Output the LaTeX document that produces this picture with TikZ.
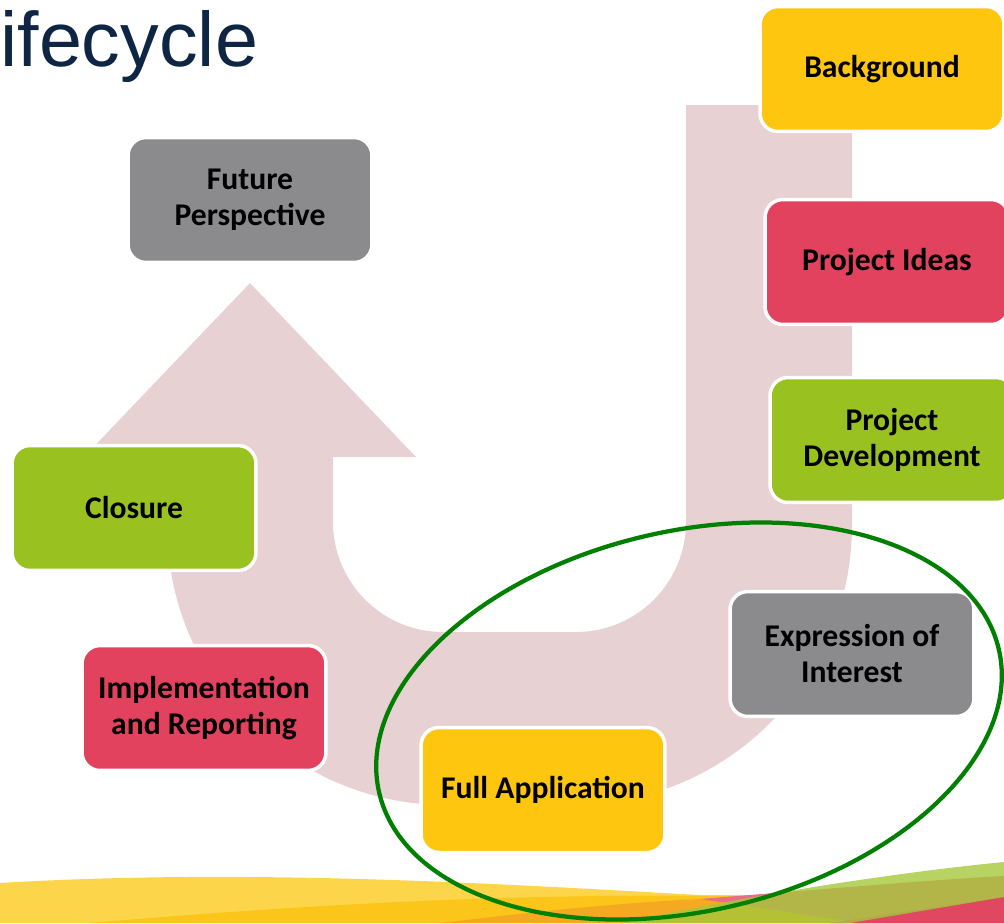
\documentclass[tikz,border=0pt]{standalone}
\usepackage{fontspec}
\setmainfont{Carlito}
\newfontfamily\titlefont{Liberation Sans}
\definecolor{boxyellow}{HTML}{FEC60E}
\definecolor{boxred}{HTML}{E3425F}
\definecolor{boxgreen}{HTML}{99C221}
\definecolor{boxgray}{HTML}{8B8B8D}
\definecolor{upink}{HTML}{E7D1D2}
\definecolor{titleblue}{HTML}{0E2643}
\definecolor{ringgreen}{HTML}{007F00}
\definecolor{wlightyellow}{HTML}{FCD54B}
\definecolor{wyellow}{HTML}{FBC51A}
\definecolor{worange}{HTML}{F5A923}
\definecolor{wpink}{HTML}{E86E87}
\definecolor{wred}{HTML}{E04862}
\definecolor{wgreen}{HTML}{A5C83A}
\begin{document}
\begin{tikzpicture}[x=0.02cm,y=-0.02cm,
  box/.style={rounded corners=0.36cm, draw=white, line width=0.07cm, text=black,
    font=\bfseries\fontsize{18}{20.5}\selectfont, align=center,
    minimum width=4.88cm, minimum height=2.5cm, inner sep=0pt},
  ubody/.style={fill=upink, draw=none},
  ring/.style={draw=ringgreen, line width=0.085cm}]
\useasboundingbox (0,0) rectangle (1004,923);
% bottom waves
\fill[wlightyellow] (0,883) .. controls (250,868) and (500,884) .. (700,895) -- (1004,895) -- (1004,923) -- (0,923) -- cycle;
\fill[wyellow] (90,923) .. controls (300,905) and (500,894) .. (700,896) -- (1004,896) -- (1004,923) -- cycle;
\fill[worange] (440,923) .. controls (550,910) and (620,903) .. (700,899) -- (860,923) -- cycle;
\fill[wpink] (700,899) .. controls (850,887) and (930,880) .. (1004,876) -- (1004,923) -- (860,923) -- cycle;
\fill[wred] (830,923) -- (1004,897) -- (1004,923) -- cycle;
\fill[wgreen, opacity=0.8] (620,923) .. controls (750,895) and (900,872) .. (1004,862) -- (1004,897) -- (850,923) -- cycle;
% U-turn arrow
\path[ubody] (852,105) -- (852,525) arc[start angle=0, end angle=90, radius=280]
  -- (447,805) arc[start angle=90, end angle=180, radius=280]
  -- (167,457) -- (84,457) -- (250,283) -- (416,457) -- (333,457) -- (333,522)
  arc[start angle=180, end angle=90, radius=110] -- (576,632)
  arc[start angle=90, end angle=0, radius=110] -- (686,105) -- cycle;
% title
\node[anchor=base west, inner sep=0pt, text=titleblue, font=\titlefont\fontsize{44}{44}\selectfont] (title) at (0,66) {ifecycle};
% boxes
\node[box, fill=boxyellow] (bg) at (882,69) {Background};
\node[box, fill=boxred] (ideas) at (887,262) {Project Ideas};
\node[box, fill=boxgreen] (dev) at (892,440) {Project\\Development};
\node[box, fill=boxgray] (eoi) at (852,654) {Expression of\\Interest};
\node[box, fill=boxyellow] (full) at (543,790) {Full Application};
\node[box, fill=boxred] (impl) at (204,708) {Implementation\\and Reporting};
\node[box, fill=boxgreen] (closure) at (134,508) {Closure};
\node[box, fill=boxgray] (future) at (250,200) {Future\\Perspective};
% ring
\draw[ring, rotate around={13:(689,721)}] (689,721) ellipse [x radius=318, y radius=190];
\end{tikzpicture}
\end{document}
